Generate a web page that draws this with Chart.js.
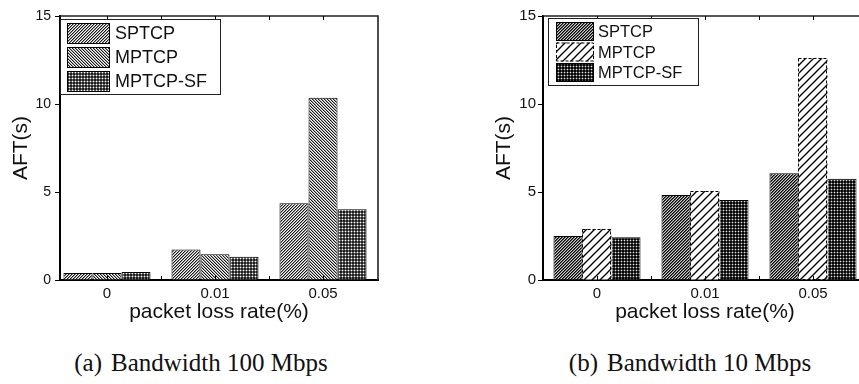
<!DOCTYPE html>
<html>
<head>
<meta charset="utf-8">
<script src="https://cdn.jsdelivr.net/npm/chart.js@4.4.1/dist/chart.umd.min.js"></script>
<style>
  html, body { margin: 0; padding: 0; background: #fff; width: 859px; height: 384px; overflow: hidden; position: relative; }
  .box { position: absolute; top: 0; height: 335px; }
  .cap { position: absolute; top: 348px; line-height: 30px; font-family: "Liberation Serif", "Times New Roman", serif;
         font-size: 25px; color: #111; white-space: nowrap; transform: translateX(-50%); }
</style>
</head>
<body>
<div class="box" style="left:0;width:430px"><canvas id="chartA"></canvas></div>
<div class="box" style="left:480px;width:400px"><canvas id="chartB"></canvas></div>
<div class="cap" style="left:201px">(a)<span style="margin-left:9px">Bandwidth 100 Mbps</span></div>
<div class="cap" style="left:690px">(b)<span style="margin-left:9px">Bandwidth 10 Mbps</span></div>
<script>
const categories = ['0', '0.01', '0.05'];
const seriesNames = ['SPTCP', 'MPTCP', 'MPTCP-SF'];
// (a) 100 Mbps
const sptcpA = [0.4, 1.74, 4.36];
const mptcpA = [0.4, 1.46, 10.36];
const mptcpSfA = [0.45, 1.32, 4.02];
// (b) 10 Mbps
const sptcpB = [2.5, 4.83, 6.06];
const mptcpB = [2.9, 5.06, 12.6];
const mptcpSfB = [2.43, 4.55, 5.75];
const yTicks = [0, 5, 10, 15];

const SANS = '"Liberation Sans", Arial, sans-serif';

// pixel tiles for the hatch fills
function pixelPattern(size, fn) {
  const c = document.createElement('canvas');
  c.width = c.height = size;
  const g = c.getContext('2d');
  const img = g.createImageData(size, size);
  for (let y = 0; y < size; y++) {
    for (let x = 0; x < size; x++) {
      const v = fn(x, y);
      const i = (y * size + x) * 4;
      img.data[i] = img.data[i + 1] = img.data[i + 2] = v;
      img.data[i + 3] = 255;
    }
  }
  g.putImageData(img, 0, 0);
  return g.createPattern(c, 'repeat');
}

function sparseHatch() {
  const c = document.createElement('canvas');
  c.width = c.height = 8;
  const g = c.getContext('2d');
  g.fillStyle = '#fff';
  g.fillRect(0, 0, 8, 8);
  g.strokeStyle = '#000';
  g.lineWidth = 1.3;
  [-8, 0, 8].forEach(ox => {
    g.beginPath();
    g.moveTo(ox - 1, 9);
    g.lineTo(ox + 9, -1);
    g.stroke();
  });
  return g.createPattern(c, 'repeat');
}

const slashLight = pixelPattern(3, (x, y) => [25, 150, 250][(x + y) % 3]);
const backLight = pixelPattern(3, (x, y) => [25, 160, 250][(x - y + 9) % 3]);
const dotsMid = pixelPattern(3, (x, y) => (x === 0 && y === 0) ? 255 : ((x === 0 || y === 0) ? 110 : 30));
const slashDark = pixelPattern(3, (x, y) => [0, 90, 205][(x + y) % 3]);
const dotsDark = pixelPattern(3, (x, y) => (x === 0 && y === 0) ? 220 : ((x === 0 || y === 0) ? 70 : 5));
const slashSparse = sparseHatch();

// legend box inside the plot
const boxLegend = {
  id: 'boxLegend',
  afterDraw(chart, args, o) {
    const ctx = chart.ctx;
    ctx.save();
    ctx.fillStyle = '#fff';
    ctx.fillRect(o.x, o.y, o.w, o.h);
    ctx.strokeStyle = '#222';
    ctx.lineWidth = 1;
    ctx.strokeRect(o.x + 0.5, o.y + 0.5, o.w, o.h);
    chart.data.datasets.forEach((ds, i) => {
      const y = o.y + o.pad + i * o.row;
      ctx.fillStyle = ds.backgroundColor;
      ctx.fillRect(o.sx, y, o.sw, o.sh);
      ctx.setLineDash(ds.dashed ? [3, 2] : []);
      ctx.strokeStyle = '#000';
      ctx.strokeRect(o.sx + 0.5, y + 0.5, o.sw - 1, o.sh - 1);
      ctx.setLineDash([]);
      ctx.fillStyle = '#111';
      ctx.font = o.font + 'px ' + SANS;
      ctx.textBaseline = 'middle';
      ctx.fillText(ds.label, o.tx, y + o.sh / 2 + 1);
    });
    ctx.restore();
  }
};

// top/right frame, inward ticks, dashed bar outlines
const frame = {
  id: 'frame',
  afterDatasetsDraw(chart) {
    const ctx = chart.ctx;
    const a = chart.chartArea;
    ctx.save();
    chart.data.datasets.forEach((ds, i) => {
      if (!ds.dashed) return;
      ctx.setLineDash([3, 2]);
      ctx.strokeStyle = '#000';
      ctx.lineWidth = 1;
      chart.getDatasetMeta(i).data.forEach(bar => {
        const p = bar.getProps(['x', 'y', 'base', 'width'], true);
        ctx.strokeRect(Math.round(p.x - p.width / 2) + 0.5, Math.round(p.y) + 0.5,
                       Math.round(p.width) - 1, Math.round(p.base - p.y));
      });
    });
    ctx.setLineDash([]);
    ctx.strokeStyle = '#222';
    ctx.lineWidth = 1.6;
    ctx.beginPath();
    ctx.moveTo(a.left, a.top);
    ctx.lineTo(a.right, a.top);
    ctx.lineTo(a.right, a.bottom);
    ctx.stroke();
    const xs = chart.scales.x;
    ctx.lineWidth = 1;
    ctx.strokeStyle = '#000';
    ctx.beginPath();
    [0, 0.5, 1, 1.5, 2].forEach(v => {
      const px = Math.round(xs.getPixelForValue(v)) + 0.5;
      ctx.moveTo(px, a.bottom);
      ctx.lineTo(px, a.bottom - 4);
      ctx.moveTo(px, a.top);
      ctx.lineTo(px, a.top + 4);
    });
    ctx.stroke();
    ctx.restore();
  }
};

function makeChart(id, vals, fills, cfg) {
  const datasets = seriesNames.map((name, k) => ({
    label: name,
    data: vals[k].map((v, i) => ({ x: i, y: v })),
    backgroundColor: fills[k],
    borderColor: '#000',
    borderWidth: cfg.dashed === k ? 0 : 1,
    dashed: cfg.dashed === k,
    barPercentage: 1,
    categoryPercentage: 0.806,
  }));
  return new Chart(document.getElementById(id), {
    type: 'bar',
    data: { datasets },
    plugins: [frame, boxLegend],
    options: {
      responsive: true,
      maintainAspectRatio: false,
      animation: false,
      layout: { padding: { top: 16, right: cfg.padRight, left: 0, bottom: 0 } },
      plugins: {
        legend: { display: false },
        tooltip: { enabled: false },
        boxLegend: cfg.legend,
      },
      scales: {
        x: {
          type: 'linear',
          min: cfg.xMin,
          max: cfg.xMax,
          offset: false,
          z: 1,
          grid: { display: true, drawOnChartArea: false, drawTicks: false, offset: false },
          border: { display: true, color: '#000', width: 2 },
          afterBuildTicks: s => { s.ticks = categories.map((c, i) => ({ value: i })); },
          afterFit: s => { s.height = 55; },
          ticks: {
            autoSkip: false,
            maxRotation: 0,
            padding: 5,
            color: '#111',
            font: { family: SANS, size: 15 },
            callback: v => categories[v],
          },
          title: {
            display: true,
            text: 'packet loss rate(%)',
            color: '#111',
            font: { family: SANS, size: 21 },
            padding: { top: 0, bottom: 10 },
          },
        },
        y: {
          min: 0,
          max: 15,
          z: 1,
          grid: { display: true, drawOnChartArea: false, drawTicks: true, tickLength: 5, color: '#000' },
          border: { display: true, color: '#000', width: 2 },
          afterBuildTicks: s => { s.ticks = yTicks.map(v => ({ value: v })); },
          afterFit: s => { s.width = cfg.yWidth; },
          ticks: {
            padding: cfg.tickPad,
            color: '#111',
            font: { family: SANS, size: cfg.tickFont },
          },
          title: {
            display: true,
            text: 'AFT(s)',
            color: '#111',
            font: { family: SANS, size: 21 },
            padding: { top: cfg.titlePad, bottom: 0 },
          },
        },
      },
    },
  });
}

makeChart('chartA', [sptcpA, mptcpA, mptcpSfA], [slashLight, backLight, dotsMid], {
  xMin: -0.435, xMax: 2.509, padRight: 52, yWidth: 60, tickPad: 4, tickFont: 14, titlePad: 9,
  dashed: -1,
  legend: { x: 60, y: 19, w: 160, h: 75, pad: 4, row: 24, sx: 67, sw: 43, sh: 21, tx: 115, font: 18 },
});

makeChart('chartB', [sptcpB, mptcpB, mptcpSfB], [slashDark, slashSparse, dotsDark], {
  xMin: -0.5, xMax: 2.5, padRight: 13, yWidth: 63, tickPad: 2, tickFont: 15, titlePad: 12,
  dashed: 1,
  legend: { x: 68, y: 18, w: 150, h: 67, pad: 4, row: 20.5, sx: 76, sw: 38, sh: 19, tx: 118, font: 16.5 },
});
</script>
</body>
</html>
